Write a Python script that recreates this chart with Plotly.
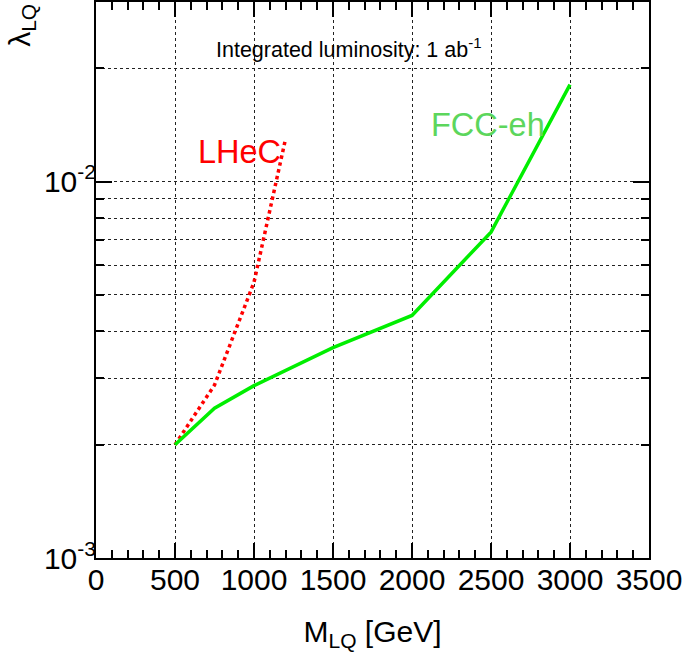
import plotly.graph_objects as go

fcc_mass = [500, 750, 1000, 1500, 2000, 2500, 3000]
fcc_lambda = [0.0020, 0.0025, 0.00287, 0.00362, 0.00441, 0.00734, 0.0181]

lhec_mass = [500, 750, 1000, 1200]
lhec_lambda = [0.0020, 0.00288, 0.00540, 0.0130]

x_ticks = [0, 500, 1000, 1500, 2000, 2500, 3000, 3500]
y_major = [0.001, 0.01]
y_major_text = ["10<sup>-3</sup>", "10<sup>-2</sup>"]
y_minor = [0.002, 0.003, 0.004, 0.005, 0.006, 0.007, 0.008, 0.009, 0.02, 0.03]

FONT = "Liberation Sans, Arial, Helvetica, sans-serif"

fig = go.Figure()
fig.add_trace(go.Scatter(x=lhec_mass, y=lhec_lambda, mode="lines",
                         line=dict(color="#ff0000", width=3.5, dash="dot"),
                         showlegend=False))
fig.add_trace(go.Scatter(x=fcc_mass, y=fcc_lambda, mode="lines",
                         line=dict(color="#00ee00", width=3.5),
                         showlegend=False))

fig.update_layout(
    width=685, height=655,
    margin=dict(l=96, r=36, t=2, b=97),
    paper_bgcolor="white", plot_bgcolor="white",
    font=dict(family=FONT, color="black", size=28),
    xaxis=dict(
        range=[0, 3500], tickvals=x_ticks, ticktext=[str(v) for v in x_ticks],
        ticks="inside", ticklen=15, tickwidth=1.5, tickcolor="black",
        showline=True, linewidth=2, linecolor="black", mirror="ticks",
        showgrid=True, gridcolor="#222222", gridwidth=1, griddash="dot",
        zeroline=False, automargin=False,
        minor=dict(dtick=100, ticks="inside", ticklen=8, tickwidth=1.5,
                   tickcolor="black", showgrid=False),
        tickfont=dict(size=30), ticklabelstandoff=-6,
        title=dict(text="M<sub>LQ</sub> [GeV]", font=dict(size=30), standoff=26),
    ),
    yaxis=dict(
        type="log", range=[-3, -1.523],
        tickvals=y_major, ticktext=y_major_text,
        ticks="inside", ticklen=16, tickwidth=1.5, tickcolor="black",
        showline=True, linewidth=2, linecolor="black", mirror="ticks",
        showgrid=True, gridcolor="#222222", gridwidth=1, griddash="dot",
        zeroline=False, automargin=False,
        minor=dict(tickvals=y_minor, ticks="inside", ticklen=8, tickwidth=1.5,
                   tickcolor="black", showgrid=True, gridcolor="#222222",
                   gridwidth=1, griddash="dot"),
        tickfont=dict(size=30), ticklabelstandoff=-8,
    ),
    annotations=[
        dict(text="λ<sub>LQ</sub>", xref="paper", yref="paper", x=-0.135, y=1.0,
             xanchor="center", yanchor="top", textangle=-90, showarrow=False,
             font=dict(size=30)),
        dict(text="Integrated luminosity: 1 ab<sup>-1</sup>", xref="x", yref="paper",
             x=1601, y=0.917, xanchor="center", yanchor="middle", showarrow=False,
             font=dict(size=21.5)),
        dict(text="LHeC", xref="x", yref="paper", x=911, y=0.73,
             xanchor="center", yanchor="middle", showarrow=False,
             font=dict(size=32.5, color="#ff0000")),
        dict(text="FCC-eh", xref="x", yref="paper", x=2481, y=0.779,
             xanchor="center", yanchor="middle", showarrow=False,
             font=dict(size=32.5, color="#5cd65c")),
    ],
)

fig.write_html("out.html", config={"displayModeBar": False},
               post_script="document.body.style.margin='0';document.body.style.padding='0';")
